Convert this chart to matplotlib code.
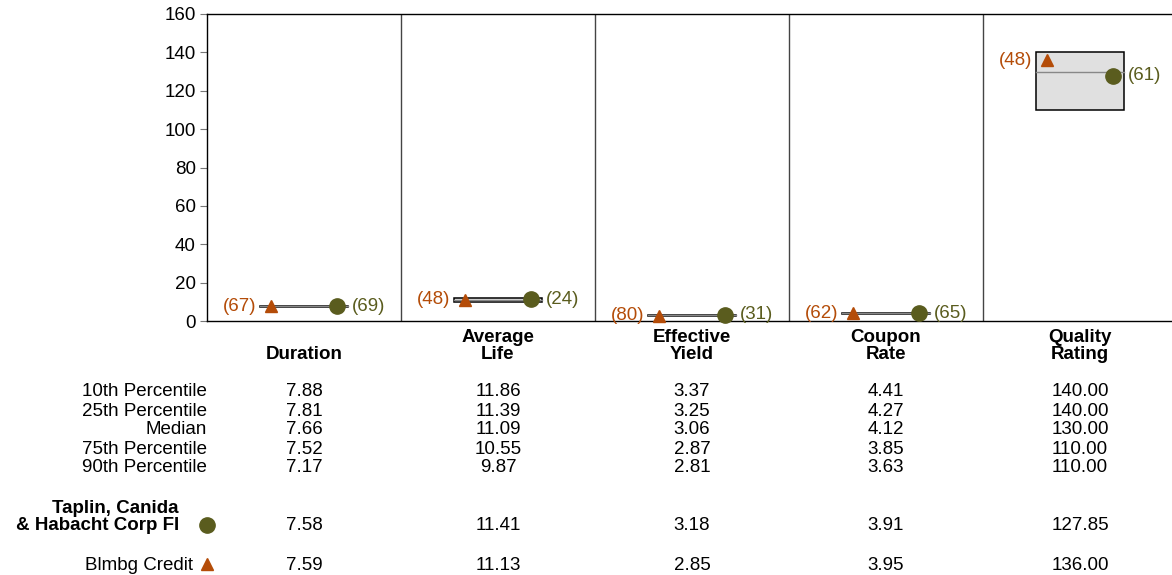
import matplotlib
matplotlib.use('Agg')
from matplotlib import pyplot as plt
from matplotlib.transforms import blended_transform_factory

plt.rcParams['font.family'] = ['Liberation Sans', 'DejaVu Sans']

# Data
categories = ["Duration", "Average\nLife", "Effective\nYield", "Coupon\nRate", "Quality\nRating"]
pct_labels = ["10th Percentile", "25th Percentile", "Median", "75th Percentile", "90th Percentile"]
p10 = [7.88, 11.86, 3.37, 4.41, 140.00]
p25 = [7.81, 11.39, 3.25, 4.27, 140.00]
median = [7.66, 11.09, 3.06, 4.12, 130.00]
p75 = [7.52, 10.55, 2.87, 3.85, 110.00]
p90 = [7.17, 9.87, 2.81, 3.63, 110.00]
fund_name = "Taplin, Canida\n& Habacht Corp FI"
fund_vals = [7.58, 11.41, 3.18, 3.91, 127.85]
fund_ranks = [69, 24, 31, 65, 61]
bench_name = "Blmbg Credit"
bench_vals = [7.59, 11.13, 2.85, 3.95, 136.00]
bench_ranks = [67, 48, 80, 62, 48]

fund_color = '#5a5c1e'
bench_color = '#b44c08'
W, H = 1172, 575
FS = 13.5

fig = plt.figure(figsize=(W / 100, H / 100), dpi=100)
ax = fig.add_axes([207 / W, 1 - 321 / H, 970 / W, (321 - 14) / H])
ax.set_xlim(0, 5)
ax.set_ylim(0, 160)
ax.set_yticks(range(0, 161, 20))
ax.set_xticks([])
ax.tick_params(axis='y', length=5, color='#777777', labelsize=FS, pad=3)
for s in ax.spines.values():
    s.set_color('black')
    s.set_linewidth(1)
for i in range(1, 5):
    ax.axvline(i, color='#444444', lw=1)

for i in range(5):
    lo, hi = p90[i], p10[i]
    ax.bar(i + 0.5, hi - lo, bottom=lo, width=0.455, color='#e0e0e0',
           edgecolor='black', linewidth=1.1, zorder=2)
    ax.plot([i + 0.2725, i + 0.7275], [median[i], median[i]], color='#888888', lw=1, zorder=3)
    ax.plot(i + 0.33, bench_vals[i], marker='^', color=bench_color, ms=9, zorder=4, clip_on=False)
    ax.plot(i + 0.67, fund_vals[i], marker='o', color=fund_color, ms=11, zorder=4, clip_on=False)
    ax.annotate("(%d)" % bench_ranks[i], (i + 0.33, bench_vals[i]), xytext=(-10.5, 0),
                textcoords='offset points', ha='right', va='center', color=bench_color, fontsize=FS)
    ax.annotate("(%d)" % fund_ranks[i], (i + 0.67, fund_vals[i]), xytext=(10.5, 0),
                textcoords='offset points', ha='left', va='center', color=fund_color, fontsize=FS)

# Table below the chart
tr = blended_transform_factory(ax.transData, fig.transFigure)
def fy(py):
    return 1 - py / H

for i, c in enumerate(categories):
    ax.text(i + 0.5, fy(363), c, transform=tr, ha='center', va='bottom',
            fontsize=FS, fontweight='bold', linespacing=1.0)

rows = [p10, p25, median, p75, p90]
for r, (lab, vals) in enumerate(zip(pct_labels, rows)):
    y = fy(392 + 19 * r)
    fig.text(207 / W, y, lab, ha='right', va='center', fontsize=FS)
    for i, v in enumerate(vals):
        ax.text(i + 0.5, y, "%.2f" % v, transform=tr, ha='center', va='center', fontsize=FS)

fig.text(179 / W, fy(517), fund_name, ha='right', va='center', fontsize=FS,
         fontweight='bold', linespacing=1.0)
ax.plot(0, fy(525), marker='o', color=fund_color, ms=11, transform=tr, clip_on=False)
for i, v in enumerate(fund_vals):
    ax.text(i + 0.5, fy(526), "%.2f" % v, transform=tr, ha='center', va='center', fontsize=FS)

fig.text(193 / W, fy(565), bench_name, ha='right', va='center', fontsize=FS)
ax.plot(0, fy(564), marker='^', color=bench_color, ms=9, transform=tr, clip_on=False)
for i, v in enumerate(bench_vals):
    ax.text(i + 0.5, fy(565), "%.2f" % v, transform=tr, ha='center', va='center', fontsize=FS)

fig.savefig('out.png', dpi=100)
